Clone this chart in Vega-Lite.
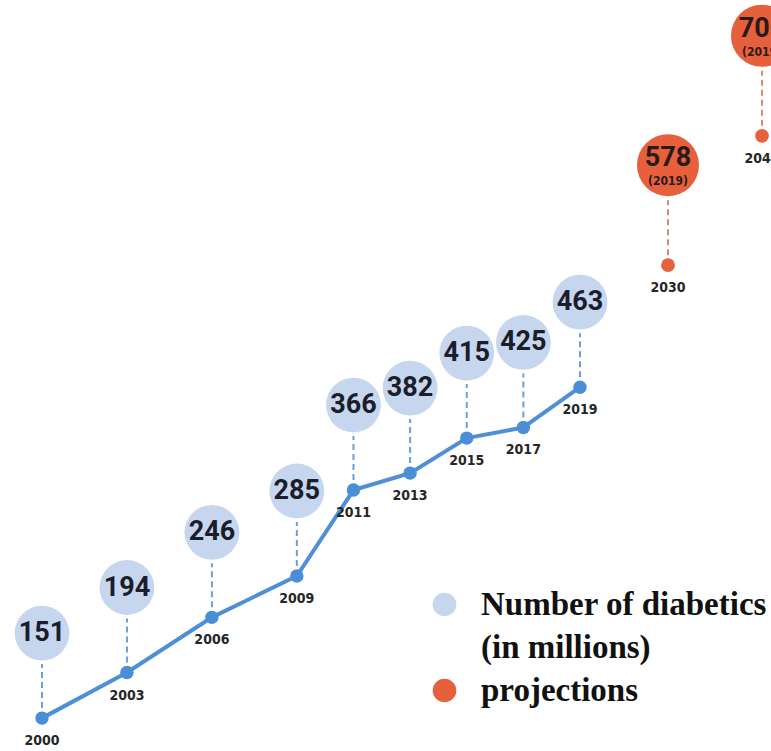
{
  "$schema": "https://vega.github.io/schema/vega-lite/v6.json",
  "width": 771,
  "height": 751,
  "padding": 0,
  "autosize": {"type": "none"},
  "background": "white",
  "config": {"view": {"stroke": null}},
  "data": {
    "values": [
      {"year": 2000, "value": 151, "type": "Number of diabetics", "ref": ""},
      {"year": 2003, "value": 194, "type": "Number of diabetics", "ref": ""},
      {"year": 2006, "value": 246, "type": "Number of diabetics", "ref": ""},
      {"year": 2009, "value": 285, "type": "Number of diabetics", "ref": ""},
      {"year": 2011, "value": 366, "type": "Number of diabetics", "ref": ""},
      {"year": 2013, "value": 382, "type": "Number of diabetics", "ref": ""},
      {"year": 2015, "value": 415, "type": "Number of diabetics", "ref": ""},
      {"year": 2017, "value": 425, "type": "Number of diabetics", "ref": ""},
      {"year": 2019, "value": 463, "type": "Number of diabetics", "ref": ""},
      {"year": 2030, "value": 578, "type": "projections", "ref": "(2019)"},
      {"year": 2045, "value": 700, "type": "projections", "ref": "(2019)"}
    ]
  },
  "encoding": {
    "x": {
      "field": "year",
      "type": "quantitative",
      "axis": null,
      "scale": {"domain": [2000, 2019, 2030, 2045], "range": [42, 580, 668, 762], "zero": false, "nice": false}
    },
    "y": {
      "field": "value",
      "type": "quantitative",
      "axis": null,
      "scale": {"domain": [120, 828], "zero": false, "nice": false}
    }
  },
  "layer": [
    {
      "transform": [{"filter": "datum.type === 'Number of diabetics'"}],
      "mark": {"type": "rule", "color": "#6a9fd8", "strokeWidth": 2, "strokeDash": [6, 4], "y2Offset": -54},
      "encoding": {"y2": {"field": "value"}}
    },
    {
      "transform": [{"filter": "datum.type === 'projections'"}],
      "mark": {"type": "rule", "color": "#d98a72", "strokeWidth": 2, "strokeDash": [6, 4], "y2Offset": -65},
      "encoding": {"y2": {"field": "value"}}
    },
    {
      "transform": [{"filter": "datum.type === 'Number of diabetics'"}],
      "mark": {"type": "line", "color": "#4e8fd5", "strokeWidth": 4},
      "encoding": {}
    },
    {
      "transform": [{"filter": "datum.type === 'Number of diabetics'"}],
      "mark": {"type": "circle", "color": "#4a8fd6", "size": 180, "opacity": 1}
    },
    {
      "transform": [{"filter": "datum.type === 'projections'"}],
      "mark": {"type": "circle", "color": "#e8613d", "size": 190, "opacity": 1}
    },
    {
      "transform": [{"filter": "datum.type === 'Number of diabetics'"}],
      "mark": {"type": "circle", "size": 3000, "opacity": 1, "yOffset": -85},
      "encoding": {
        "fill": {
          "field": "type",
          "type": "nominal",
          "scale": {
            "domain": ["Number of diabetics", "(in millions)", "projections"],
            "range": ["#c6d6ef", "transparent", "#e6603b"]
          },
          "legend": {
            "title": null,
            "orient": "none",
            "legendX": 428,
            "legendY": 588,
            "symbolType": "circle",
            "symbolSize": 560,
            "symbolStrokeWidth": 0,
            "labelFont": "Liberation Serif",
            "labelFontSize": 33,
            "labelFontWeight": "bold",
            "labelColor": "#111111",
            "labelLimit": 500,
            "labelOffset": 20,
            "rowPadding": 9
          }
        }
      }
    },
    {
      "transform": [{"filter": "datum.type === 'projections'"}],
      "mark": {"type": "circle", "size": 3850, "opacity": 1, "yOffset": -100},
      "encoding": {"fill": {"field": "type", "type": "nominal"}}
    },
    {
      "transform": [{"filter": "datum.type === 'Number of diabetics'"}],
      "mark": {"type": "text", "font": "Roboto", "fontWeight": "bold", "fontSize": 27, "color": "#1b1d2b", "baseline": "middle", "yOffset": -85},
      "encoding": {"text": {"field": "value"}}
    },
    {
      "transform": [{"filter": "datum.type === 'projections'"}],
      "mark": {"type": "text", "font": "Roboto", "fontWeight": "bold", "fontSize": 27, "color": "#2a1a1a", "baseline": "middle", "yOffset": -107},
      "encoding": {"text": {"field": "value"}}
    },
    {
      "transform": [{"filter": "datum.type === 'projections'"}],
      "mark": {"type": "text", "font": "DejaVu Sans Condensed", "fontWeight": "bold", "fontSize": 12, "color": "#2a1a1a", "baseline": "middle", "yOffset": -84},
      "encoding": {"text": {"field": "ref"}}
    },
    {
      "mark": {"type": "text", "font": "DejaVu Sans Condensed", "fontWeight": "bold", "fontSize": 14, "color": "#262626", "baseline": "middle", "yOffset": 23},
      "encoding": {"text": {"field": "year"}}
    }
  ]
}
